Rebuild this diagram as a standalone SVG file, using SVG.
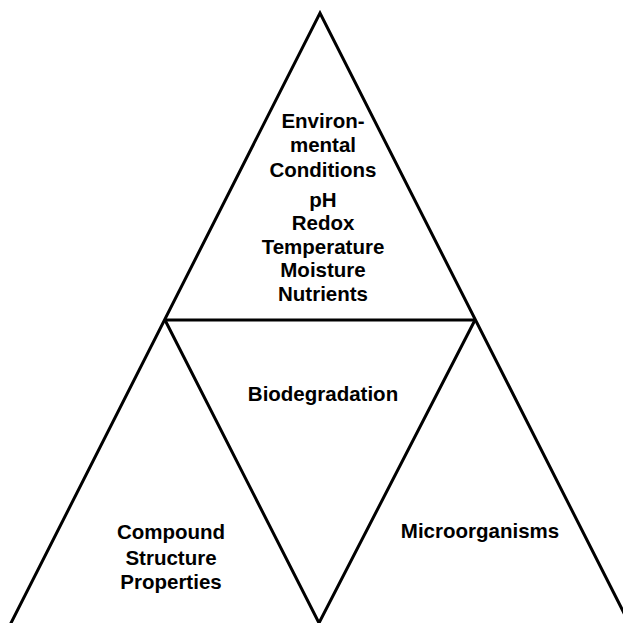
<svg xmlns="http://www.w3.org/2000/svg" width="623" height="623" viewBox="0 0 623 623">
<style>
.ln{stroke:#000;stroke-width:3;fill:none;stroke-linejoin:miter}
text{font-family:"Liberation Sans",Arial,sans-serif;font-weight:bold;font-size:20.5px;fill:#000;text-anchor:middle}
</style>
<rect width="623" height="623" fill="#fff"/>
<g id="connectors">
<polyline class="ln" points="10,625 320,13 630,625"/>
<line class="ln" x1="165" y1="320" x2="475" y2="320"/>
<polyline class="ln" points="165,320 319,623 475,320"/>
</g>
<g id="environmental">
<text x="323" y="128">Environ-</text>
<text x="323" y="152">mental</text>
<text x="323" y="177">Conditions</text>
<text x="323" y="207">pH</text>
<text x="323" y="230">Redox</text>
<text x="323" y="254">Temperature</text>
<text x="323" y="277">Moisture</text>
<text x="323" y="301">Nutrients</text>
</g>
<g id="biodegradation">
<text x="323" y="401">Biodegradation</text>
</g>
<g id="compound">
<text x="171" y="539">Compound</text>
<text x="171" y="565">Structure</text>
<text x="171" y="589">Properties</text>
</g>
<g id="microorganisms">
<text x="480" y="538">Microorganisms</text>
</g>
</svg>
